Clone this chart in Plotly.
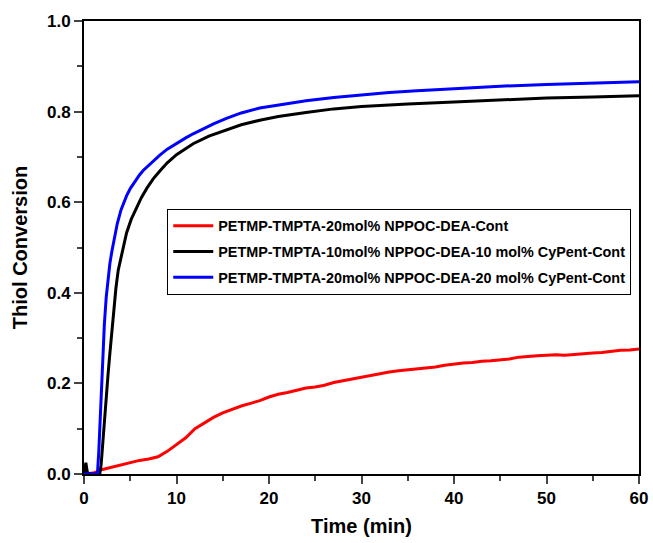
import plotly.graph_objects as go

red_name = "PETMP-TMPTA-20mol% NPPOC-DEA-Cont"
black_name = "PETMP-TMPTA-10mol% NPPOC-DEA-10 mol% CyPent-Cont"
blue_name = "PETMP-TMPTA-20mol% NPPOC-DEA-20 mol% CyPent-Cont"

red_t = list(range(0, 61))
red_y = [0.0, 0.002, 0.01, 0.015, 0.02, 0.025, 0.03, 0.033, 0.038, 0.05,
         0.065, 0.08, 0.1, 0.112, 0.125, 0.135, 0.143, 0.15, 0.156, 0.162,
         0.17, 0.176, 0.18, 0.185, 0.19, 0.192, 0.196, 0.202, 0.206, 0.21,
         0.214, 0.217, 0.221, 0.225, 0.228, 0.23, 0.232, 0.234, 0.236, 0.24,
         0.243, 0.245, 0.246, 0.249, 0.25, 0.252, 0.254, 0.258, 0.26, 0.261,
         0.262, 0.263, 0.262, 0.264, 0.265, 0.267, 0.268, 0.271, 0.273, 0.274,
         0.276]

black_t = [0, 0.1, 0.2, 0.35, 0.5, 1.7, 1.85, 2.0, 2.2, 2.4, 2.6, 2.8, 3.0,
           3.2, 3.45, 3.7, 4.1, 4.6, 5.1, 5.7, 6.2, 6.8, 7.5, 8.2, 9.0, 10,
           11, 11.8, 13.5, 15.4, 17, 19, 21, 24, 27, 30, 35, 40, 45, 50, 55,
           60]
black_y = [0.0, 0.02, 0.025, 0.005, 0.0, 0.0, 0.02, 0.06, 0.12, 0.175, 0.22,
           0.267, 0.315, 0.36, 0.41, 0.45, 0.49, 0.532, 0.562, 0.59, 0.61,
           0.631, 0.652, 0.669, 0.687, 0.705, 0.719, 0.729, 0.746, 0.76,
           0.771, 0.781, 0.789, 0.798, 0.806, 0.811, 0.817, 0.821, 0.826,
           0.83, 0.832, 0.835]

blue_t = [0, 1.45, 1.6, 1.75, 1.9, 2.05, 2.2, 2.4, 2.6, 2.8, 3.0, 3.3, 3.6,
          4.0, 4.6, 5.0, 5.5, 6.0, 6.4, 7.3, 8.2, 9, 10, 11, 11.8, 13, 14,
          15.4, 17, 19, 21, 24, 27, 30, 33, 36, 40, 45, 50, 55, 60]
blue_y = [0.0, 0.0, 0.05, 0.12, 0.2, 0.27, 0.33, 0.39, 0.43, 0.465, 0.49,
          0.525, 0.553, 0.583, 0.614, 0.63, 0.646, 0.66, 0.67, 0.688, 0.704,
          0.717, 0.73, 0.742, 0.751, 0.764, 0.773, 0.785, 0.797, 0.808,
          0.815, 0.824, 0.831, 0.837, 0.842, 0.846, 0.851, 0.856, 0.86,
          0.863, 0.866]

x_ticks = [0, 10, 20, 30, 40, 50, 60]
y_ticks = [0.0, 0.2, 0.4, 0.6, 0.8, 1.0]
y_tick_labels = ["0.0", "0.2", "0.4", "0.6", "0.8", "1.0"]

fig = go.Figure()
fig.add_trace(go.Scatter(x=red_t, y=red_y, mode="lines", name=red_name,
                         legendgroup="a",
                         line=dict(color="#ff0000", width=3)))
fig.add_trace(go.Scatter(x=black_t, y=black_y, mode="lines", name=black_name,
                         legendgroup="b",
                         line=dict(color="#000000", width=3)))
fig.add_trace(go.Scatter(x=blue_t, y=blue_y, mode="lines", name=blue_name,
                         legendgroup="c",
                         line=dict(color="#0000ff", width=3)))

font_family = "Liberation Sans, Arial, sans-serif"

fig.update_layout(
    width=653, height=543,
    margin=dict(l=84, r=14, t=21, b=69),
    plot_bgcolor="white", paper_bgcolor="white",
    font=dict(family=font_family, color="black", size=18, weight="bold"),
    showlegend=True,
    legend=dict(x=0.15, y=0.585, xanchor="left", yanchor="top",
                bordercolor="black", borderwidth=1, bgcolor="white",
                font=dict(size=14.4, family=font_family, weight="bold"),
                traceorder="grouped", tracegroupgap=4, itemwidth=40),
)
fig.update_xaxes(
    range=[0, 60], tickvals=x_ticks, ticks="outside", ticklen=8, tickwidth=2,
    showline=True, linecolor="black", linewidth=2, mirror=True,
    showgrid=False, zeroline=False, automargin=False,
    minor=dict(dtick=5, ticks="outside", ticklen=5, tickwidth=2, showgrid=False),
    title=dict(text="Time (min)", font=dict(size=20, weight="bold"), standoff=12),
    tickfont=dict(size=17, weight="bold"),
)
fig.update_yaxes(
    range=[0, 1], tickvals=y_ticks, ticktext=y_tick_labels, ticks="outside",
    ticklen=8, tickwidth=2,
    showline=True, linecolor="black", linewidth=2, mirror=True,
    showgrid=False, zeroline=False, automargin=False,
    minor=dict(dtick=0.1, ticks="outside", ticklen=5, tickwidth=2, showgrid=False),
    title=dict(text="Thiol Conversion", font=dict(size=20, weight="bold"), standoff=14),
    tickfont=dict(size=17, weight="bold"),
)

fig.write_html(
    "out.html",
    config={"displayModeBar": False},
    post_script="document.body.style.margin='0';document.body.style.overflow='hidden';",
)
